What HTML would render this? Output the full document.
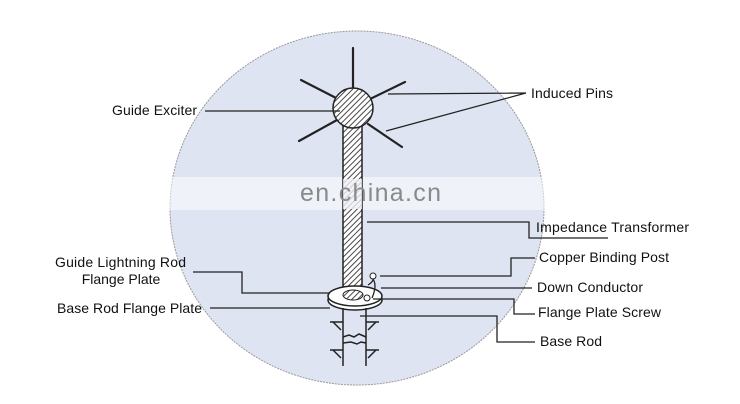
<!DOCTYPE html>
<html><head><meta charset="utf-8"><style>
html,body{margin:0;padding:0;background:#fff;}
svg{display:block;font-family:"Liberation Sans",sans-serif;}
</style></head><body>
<svg width="740" height="404" viewBox="0 0 740 404" xmlns="http://www.w3.org/2000/svg">
<defs>
<pattern id="h" width="4" height="4" patternUnits="userSpaceOnUse" patternTransform="rotate(45)">
<rect width="4" height="4" fill="#fff"/><line x1="0" y1="0" x2="0" y2="4" stroke="#333" stroke-width="1.8"/>
</pattern>
</defs>
<ellipse cx="357" cy="208" rx="187" ry="177" fill="#dfe4f3" stroke="#999" stroke-width="1" stroke-dasharray="2,1"/>
<rect x="0" y="177" width="740" height="33" fill="#fff" opacity="0.5"/>
<g stroke="#222" stroke-width="2.2" stroke-linecap="round">
<line x1="353" y1="48" x2="353" y2="92"/>
<line x1="301" y1="80" x2="340" y2="100"/>
<line x1="405" y1="82" x2="368" y2="100"/>
<line x1="299" y1="141" x2="337" y2="120"/>
<line x1="402" y1="147" x2="368" y2="124"/>
</g>
<rect x="343" y="115" width="19" height="178" fill="url(#h)" stroke="#222" stroke-width="1.5"/>
<circle cx="353" cy="108" r="20" fill="url(#h)" stroke="#222" stroke-width="1.5"/>
<rect x="343" y="179" width="19" height="30" fill="#eef0f6" opacity="0.8"/>
<text x="300" y="201" font-size="25" fill="#8a8a8a" textLength="141">en.china.cn</text>
<ellipse cx="355" cy="300" rx="27" ry="10" fill="#fff" stroke="#222" stroke-width="1.5"/>
<ellipse cx="355" cy="296" rx="27" ry="10" fill="#fff" stroke="#222" stroke-width="1.5"/>
<ellipse cx="353" cy="295" rx="10" ry="5" fill="url(#h)" stroke="#222"/>
<circle cx="367" cy="298" r="3" fill="#fff" stroke="#222"/>
<path d="M368 285 q8 -5 4 -10 M372 278 q6 6 0 20" fill="none" stroke="#222" stroke-width="1.3"/>
<circle cx="373" cy="276" r="3" fill="#fff" stroke="#222"/>
<g stroke="#222" stroke-width="1.5" fill="none">
<line x1="343" y1="308" x2="343" y2="366"/><line x1="366" y1="308" x2="366" y2="366"/>
<path d="M343 337 l6 -2 l5 2 l5 -3 l7 3 M343 343 l8 -1 l6 2 l4 -2 l5 1"/>
<path d="M330 322 h13 M366 322 h13 M333 322 l8 8 M376 322 l-8 8"/>
<path d="M330 350 h13 M366 350 h13 M333 350 l8 8 M376 350 l-8 8"/>
</g>
<g stroke="#222" stroke-width="1.3" fill="none">
<line x1="205" y1="111" x2="340" y2="111"/>
<polyline points="388,94 526,93 386,131"/>
<polyline points="367,222 529,222 529,238 608,238"/>
<polyline points="380,276 511,276 511,258 535,258"/>
<line x1="381" y1="288" x2="532" y2="288"/>
<polyline points="373,299 514,299 514,314 535,314"/>
<polyline points="360,316 497,316 497,342 535,342"/>
<polyline points="193,272 242,272 242,293 330,293"/>
<line x1="210" y1="308" x2="330" y2="308"/>
</g>
<g font-size="14" fill="#111" lengthAdjust="spacingAndGlyphs">
<text x="112" y="115" textLength="85">Guide Exciter</text>
<text x="531" y="98" textLength="82">Induced Pins</text>
<text x="536" y="232" textLength="153">Impedance Transformer</text>
<text x="539" y="262" textLength="130">Copper Binding Post</text>
<text x="537" y="292" textLength="106">Down Conductor</text>
<text x="538" y="317" textLength="123">Flange Plate Screw</text>
<text x="540" y="346" textLength="62">Base Rod</text>
<text x="55" y="267" textLength="131">Guide Lightning Rod</text>
<text x="121" y="284" text-anchor="middle">Flange Plate</text>
<text x="57" y="313" textLength="145">Base Rod Flange Plate</text>
</g>
</svg>
</body></html>
